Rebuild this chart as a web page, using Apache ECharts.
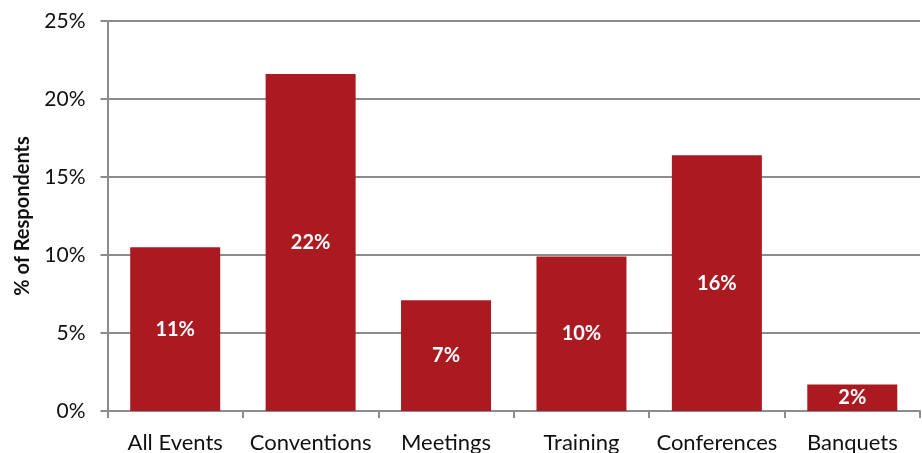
<!DOCTYPE html>
<html>
<head>
<meta charset="utf-8">
<script src="https://cdn.jsdelivr.net/npm/echarts@6/dist/echarts.min.js"></script>
<style>
  html, body { margin: 0; padding: 0; background: #ffffff; }
  #chart { width: 922px; height: 453px; }
</style>
</head>
<body>
<div id="chart"></div>
<script>
// Share of respondents by event type
const categories = ['All Events', 'Conventions', 'Meetings', 'Training', 'Conferences', 'Banquets'];
const shares = [10.5, 21.6, 7.1, 9.9, 16.4, 1.7];
const yTicks = { min: 0, max: 25, step: 5 };

const gray = '#8c8c8c';
const font = 'Lato, "Open Sans", sans-serif';

const chart = echarts.init(document.getElementById('chart'), null, { renderer: 'canvas' });
chart.setOption({
  animation: false,
  backgroundColor: '#ffffff',
  grid: { left: 107.5, right: 2, top: 21, bottom: 42, containLabel: false, outerBoundsMode: 'none' },
  xAxis: {
    type: 'category',
    data: categories,
    axisLine: { show: true, lineStyle: { color: gray, width: 2 } },
    axisTick: { show: true, length: 7, alignWithLabel: false, lineStyle: { color: gray, width: 2 } },
    axisLabel: { color: '#111', fontFamily: font, fontSize: 22, margin: 21, interval: 0 }
  },
  yAxis: {
    type: 'value',
    min: yTicks.min,
    max: yTicks.max,
    interval: yTicks.step,
    name: '% of Respondents',
    nameLocation: 'middle',
    nameGap: 75,
    nameRotate: 90,
    nameTextStyle: { color: '#111', fontFamily: font, fontSize: 20, fontWeight: 'bold' },
    axisLine: { show: true, lineStyle: { color: gray, width: 2 } },
    axisTick: { show: true, length: 7, lineStyle: { color: gray, width: 2 } },
    splitLine: { show: true, lineStyle: { color: gray, width: 2 } },
    axisLabel: { color: '#111', fontFamily: font, fontSize: 21, margin: 22, formatter: '{value}%' }
  },
  series: [{
    type: 'bar',
    data: shares,
    barWidth: 90,
    itemStyle: { color: '#aa1a20' },
    label: {
      show: true,
      position: 'inside',
      color: '#ffffff',
      fontFamily: font,
      fontSize: 20,
      fontWeight: 'bold',
      formatter: p => Math.round(p.value) + '%'
    }
  }]
});
</script>
</body>
</html>
